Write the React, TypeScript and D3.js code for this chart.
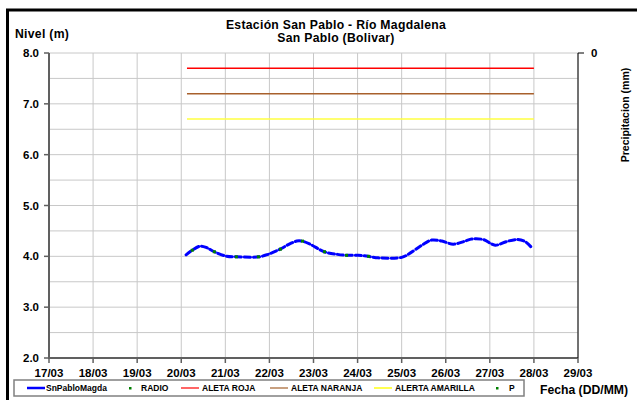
import React from "react";
import * as d3 from "d3";

const W = 637;
const H = 400;

const yTicks = [2, 3, 4, 5, 6, 7, 8];
const xTickDays = [17, 18, 19, 20, 21, 22, 23, 24, 25, 26, 27, 28, 29];
const xTickLabels = ["17/03", "18/03", "19/03", "20/03", "21/03", "22/03", "23/03", "24/03", "25/03", "26/03", "27/03", "28/03", "29/03"];

// SnPabloMagda level (day of March, fractional)
const levelDays = [20.11, 20.25, 20.43, 20.58, 20.75, 21.03, 21.26, 21.76, 21.97, 22.24, 22.47, 22.62, 22.73, 22.92, 23.24, 23.53, 23.75, 24.02, 24.24, 24.47, 25.0, 25.15, 25.46, 25.68, 25.91, 26.17, 26.44, 26.59, 26.85, 27.12, 27.38, 27.61, 27.8, 27.95];
const levelValues = [4.03, 4.12, 4.2, 4.17, 4.09, 4.0, 3.99, 3.99, 4.04, 4.14, 4.25, 4.3, 4.3, 4.24, 4.09, 4.04, 4.02, 4.02, 4.0, 3.97, 3.98, 4.04, 4.22, 4.32, 4.3, 4.24, 4.3, 4.34, 4.33, 4.22, 4.29, 4.33, 4.29, 4.17];

// RADIO readings
const radioDays = [20.25, 20.75, 21.25, 21.75, 22.25, 22.75, 23.25, 23.75, 24.25];
const radioValues = [4.12, 4.09, 3.99, 3.99, 4.14, 4.3, 4.09, 4.02, 4.0];

// Alert thresholds
const alertStart = 20.13;
const alertEnd = 28.0;
const alertNames = ["ALETA ROJA", "ALETA NARANJA", "ALERTA AMARILLA"];
const alertValues = [7.7, 7.2, 6.7];
const alertColors = ["#ff0000", "#a8602c", "#ffff40"];
const alertLegendColors = ["#ff6666", "#c8a080", "#ffff50"];

const FONT = "'Liberation Sans', Arial, sans-serif";

export default function App() {
  const left = 49, right = 578, top = 53, bottom = 358;
  const x = d3.scaleLinear().domain([17, 29]).range([left, right]);
  const y = d3.scaleLinear().domain([2, 8]).range([bottom, top]);
  const grid = d3.range(2, 8.01, 0.5);

  const pts = levelDays.map((d, i) => [x(d), y(levelValues[i])] as [number, number]);
  const line = d3.line().curve(d3.curveCatmullRom.alpha(0.5))(pts) || "";

  return (
    <svg width={W} height={H} style={{ position: "absolute", left: 0, top: 0, background: "#fff" }} fontFamily={FONT}>
      <rect x={0} y={0} width={W} height={H} fill="#fff" />
      {/* frame */}
      <line x1={6} y1={10} x2={W} y2={10} stroke="#000" strokeWidth={3} />
      <line x1={7.5} y1={10} x2={7.5} y2={H} stroke="#000" strokeWidth={3} />

      {/* titles */}
      <text x={336} y={29} textAnchor="middle" fontSize={12.2} fontWeight="bold" letterSpacing={0.3}>Estación San Pablo - Río Magdalena</text>
      <text x={336} y={42} textAnchor="middle" fontSize={12.2} fontWeight="bold" letterSpacing={0.3}>San Pablo (Bolivar)</text>
      <text x={15} y={38} fontSize={12.2} fontWeight="bold" letterSpacing={0.3}>Nivel (m)</text>

      {/* grid */}
      {grid.map((g) => (
        <line key={"h" + g} x1={left} x2={right} y1={y(g)} y2={y(g)} stroke="#c8c8c8" strokeWidth={1} />
      ))}
      {xTickDays.map((d) => (
        <line key={"v" + d} x1={x(d)} x2={x(d)} y1={top} y2={bottom} stroke="#c8c8c8" strokeWidth={1} />
      ))}

      {/* alert lines */}
      {alertValues.map((v, i) => (
        <line key={"a" + i} x1={x(alertStart)} x2={x(alertEnd)} y1={y(v)} y2={y(v)} stroke={alertColors[i]} strokeWidth={1.5} />
      ))}

      {/* level line */}
      <path d={line} fill="none" stroke="#0000ff" strokeWidth={3} strokeDasharray="6 3" strokeLinecap="round" />
      {radioDays.map((d, i) => (
        <rect key={"r" + i} x={x(d) - 1.5} y={y(radioValues[i]) - 1.5} width={3} height={3} fill="#008000" />
      ))}

      {/* axes */}
      <line x1={left} x2={left} y1={top} y2={bottom + 1} stroke="#606060" strokeWidth={2} />
      <line x1={left - 1} x2={right} y1={bottom} y2={bottom} stroke="#606060" strokeWidth={2} />
      <line x1={right} x2={right} y1={top} y2={bottom} stroke="#000" strokeWidth={1} />
      <line x1={right} x2={right + 6} y1={top} y2={top} stroke="#000" strokeWidth={1} />
      <text x={591} y={57} fontSize={11.5} fontWeight="bold">0</text>
      <text transform={`translate(629,115) rotate(-90)`} textAnchor="middle" fontSize={10.5} fontWeight="bold">Precipitacion (mm)</text>

      {yTicks.map((t) => (
        <g key={"yt" + t}>
          <line x1={left - 5} x2={left} y1={y(t)} y2={y(t)} stroke="#606060" strokeWidth={1.5} />
          <text x={39} y={y(t) + 4} textAnchor="end" fontSize={11.5} fontWeight="bold">{t.toFixed(1)}</text>
        </g>
      ))}
      {xTickDays.map((d, i) => (
        <g key={"xt" + d}>
          <line x1={x(d)} x2={x(d)} y1={bottom} y2={bottom + 5} stroke="#606060" strokeWidth={1.5} />
          <text x={x(d)} y={377} textAnchor="middle" fontSize={11.5} fontWeight="bold">{xTickLabels[i]}</text>
        </g>
      ))}

      {/* legend */}
      <rect x={14} y={380} width={510} height={16} fill="#fff" stroke="#808080" strokeWidth={1.5} />
      <line x1={27} x2={45} y1={388} y2={388} stroke="#0000ff" strokeWidth={2.5} />
      <text x={46} y={391} fontSize={8.5} fontWeight="bold">SnPabloMagda</text>
      <rect x={129} y={387} width={2.5} height={2.5} fill="#008000" />
      <text x={141} y={391} fontSize={8.5} fontWeight="bold">RADIO</text>
      {[181, 270, 374].map((lx, i) => (
        <g key={"lg" + i}>
          <line x1={lx} x2={lx + 18} y1={388} y2={388} stroke={alertLegendColors[i]} strokeWidth={2} />
          <text x={lx + 21} y={391} fontSize={8.5} fontWeight="bold">{alertNames[i]}</text>
        </g>
      ))}
      <rect x={496} y={387} width={2.5} height={2.5} fill="#008000" />
      <text x={509} y={391} fontSize={8.5} fontWeight="bold">P</text>

      <text x={540} y={394} fontSize={12.2} fontWeight="bold">Fecha (DD/MM)</text>
    </svg>
  );
}
